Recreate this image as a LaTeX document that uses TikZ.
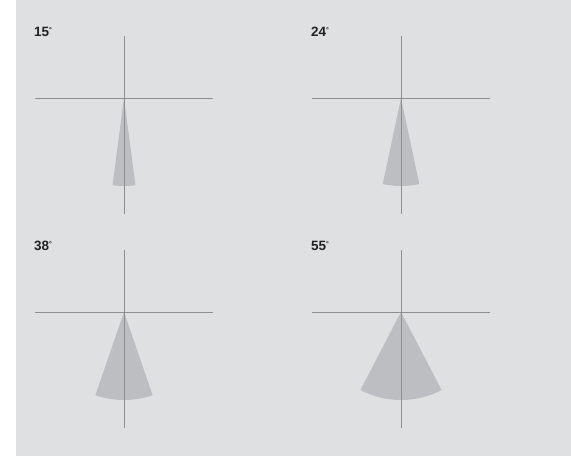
\documentclass[tikz,border=0pt]{standalone}
\usepackage{fontspec}
\setmainfont{Liberation Sans}
\usepackage{tikz}
\usetikzlibrary{positioning}

\definecolor{panelbg}{HTML}{DFE0E2}
\definecolor{axisgray}{HTML}{8E8E8E}
\definecolor{conegray}{HTML}{BDBEC1}
\definecolor{labelgray}{HTML}{222222}

\begin{document}
\begin{tikzpicture}[x=1pt,y=1pt,
  axis/.style={draw=axisgray,line width=1pt},
  cone/.style={fill=conegray,draw=none},
  angle/.style={anchor=base west,inner sep=0pt,text=labelgray,font=\bfseries\fontsize{13.5}{15}\selectfont}]

  % Background
  \useasboundingbox (0,0) rectangle (571,-456);
  \fill[white] (0,0) rectangle (571,-456);
  \fill[panelbg] (16,0) rectangle (571,-456);

  % Centres
  \coordinate (c1) at (124,-98);
  \coordinate (c2) at (401,-98);
  \coordinate (c3) at (124,-312);
  \coordinate (c4) at (401,-312);

  % Panel 1 : 15 degrees
  \node[angle] (a1) at (34,-36) {15\raisebox{4pt}{\scriptsize °}};
  \fill[cone] (c1) -- ++(-97.5:88) arc[start angle=-97.5,end angle=-82.5,radius=88] -- cycle;
  \coordinate (t1) at ([yshift=62]c1);
  \coordinate (b1) at ([yshift=-116]c1);
  \coordinate (l1) at ([xshift=-89]c1);
  \coordinate (r1) at ([xshift=89]c1);
  \draw[axis] (t1) -- (b1);
  \draw[axis] (l1) -- (r1);

  % Panel 2 : 24 degrees
  \node[angle] (a2) at (311,-36) {24\raisebox{4pt}{\scriptsize °}};
  \fill[cone] (c2) -- ++(-102:88) arc[start angle=-102,end angle=-78,radius=88] -- cycle;
  \coordinate (t2) at ([yshift=62]c2);
  \coordinate (b2) at ([yshift=-116]c2);
  \coordinate (l2) at ([xshift=-89]c2);
  \coordinate (r2) at ([xshift=89]c2);
  \draw[axis] (t2) -- (b2);
  \draw[axis] (l2) -- (r2);

  % Panel 3 : 38 degrees
  \node[angle] (a3) at (34,-250) {38\raisebox{4pt}{\scriptsize °}};
  \fill[cone] (c3) -- ++(-109:88) arc[start angle=-109,end angle=-71,radius=88] -- cycle;
  \coordinate (t3) at ([yshift=62]c3);
  \coordinate (b3) at ([yshift=-116]c3);
  \coordinate (l3) at ([xshift=-89]c3);
  \coordinate (r3) at ([xshift=89]c3);
  \draw[axis] (t3) -- (b3);
  \draw[axis] (l3) -- (r3);

  % Panel 4 : 55 degrees
  \node[angle] (a4) at (311,-250) {55\raisebox{4pt}{\scriptsize °}};
  \fill[cone] (c4) -- ++(-117.5:88) arc[start angle=-117.5,end angle=-62.5,radius=88] -- cycle;
  \coordinate (t4) at ([yshift=62]c4);
  \coordinate (b4) at ([yshift=-116]c4);
  \coordinate (l4) at ([xshift=-89]c4);
  \coordinate (r4) at ([xshift=89]c4);
  \draw[axis] (t4) -- (b4);
  \draw[axis] (l4) -- (r4);
\end{tikzpicture}
\end{document}
